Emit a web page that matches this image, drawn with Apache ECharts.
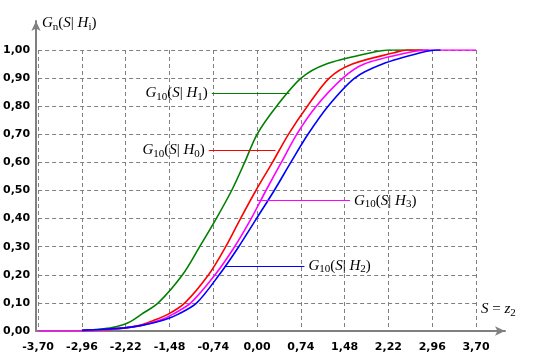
<!DOCTYPE html>
<html>
<head>
<meta charset="utf-8">
<script src="https://cdn.jsdelivr.net/npm/echarts@6/dist/echarts.min.js"></script>
<style>html,body{margin:0;padding:0;background:#fff;}#c{width:540px;height:360px;}</style>
</head>
<body>
<div id="c"></div>
<script>
// x-axis ticks (S = z2) and y-axis ticks
var xTicks = [-3.70, -2.96, -2.22, -1.48, -0.74, 0.00, 0.74, 1.48, 2.22, 2.96, 3.70];
var yTicks = [0, 0.1, 0.2, 0.3, 0.4, 0.5, 0.6, 0.7, 0.8, 0.9, 1.0];

// G10(S|H1) - green
var h1S = [-2.96, -2.73, -2.45, -2.17, -1.95, -1.67, -1.26, -0.97, -0.69, -0.43, -0.21, 0.00, 0.33, 0.745, 1.17, 1.92, 2.22, 2.80];
var h1G = [0.001, 0.005, 0.012, 0.030, 0.060, 0.100, 0.200, 0.300, 0.400, 0.500, 0.600, 0.700, 0.800, 0.900, 0.950, 0.990, 1.000, 1.000];
// G10(S|H0) - red
var h0S = [-2.96, -2.50, -2.20, -1.95, -1.77, -1.50, -1.22, -0.82, -0.53, -0.28, -0.02, 0.26, 0.53, 0.85, 1.22, 1.61, 2.31, 2.54, 2.90];
var h0G = [0.001, 0.005, 0.012, 0.022, 0.036, 0.060, 0.100, 0.200, 0.300, 0.400, 0.500, 0.600, 0.700, 0.800, 0.900, 0.950, 0.990, 1.000, 1.000];
// G10(S|H3) - magenta
var h3S = [-3.70, -2.96, -2.60, -2.20, -1.95, -1.61, -1.42, -1.12, -0.71, -0.38, -0.10, 0.15, 0.41, 0.67, 1.00, 1.45, 1.81, 2.54, 2.88, 3.70];
var h3G = [0.000, 0.001, 0.004, 0.012, 0.020, 0.041, 0.060, 0.100, 0.200, 0.300, 0.400, 0.500, 0.600, 0.700, 0.800, 0.900, 0.950, 0.990, 1.000, 1.000];
// G10(S|H2) - blue
var h2S = [-2.96, -2.60, -2.20, -1.95, -1.55, -1.33, -1.02, -0.64, -0.31, -0.01, 0.29, 0.57, 0.86, 1.20, 1.65, 2.12, 2.76, 3.04, 3.10];
var h2G = [0.003, 0.006, 0.012, 0.020, 0.041, 0.060, 0.100, 0.200, 0.300, 0.400, 0.500, 0.600, 0.700, 0.800, 0.900, 0.950, 0.990, 1.000, 1.000];

// annotation leader lines: [S start, S end, G level]
var h1Lead = [-0.765, 0.547, 0.846];
var h0Lead = [-0.816, 0.31, 0.643];
var h3Lead = [0.0, 1.57, 0.464];
var h2Lead = [-0.547, 0.80, 0.232];

function pairs(xs, ys) { return xs.map(function (x, i) { return [x, ys[i]]; }); }
function fmt(v) { return v.toFixed(2).replace('.', ','); }

var serif = 'Liberation Serif';
var rich = {
  i: { fontFamily: serif, fontStyle: 'italic', fontSize: 15, color: '#000' },
  n: { fontFamily: serif, fontSize: 15, color: '#000' },
  s: { fontFamily: serif, fontSize: 11, color: '#000', padding: [7, 0, 0, 0] }
};
function labelText(h) { return '{i|G}{s|10}{n|(}{i|S}{n|| }{i|H}{s|' + h + '}{n|)}'; }

function series(name, xs, ys, color, lead, h, pos) {
  return {
    name: name, type: 'line', xAxisIndex: 0, yAxisIndex: 0,
    data: pairs(xs, ys), showSymbol: false, smooth: 0.3,
    lineStyle: { color: color, width: 1.6 }, itemStyle: { color: color },
    z: 3,
    markLine: {
      silent: true, symbol: 'none', animation: false,
      lineStyle: { color: color, width: 1.2, type: 'solid' },
      label: { show: true, position: pos, distance: 4, formatter: labelText(h), rich: rich },
      data: [[{ coord: [lead[0], lead[2]] }, { coord: [lead[1], lead[2]] }]]
    }
  };
}

var tickFont = { margin: 0, color: '#000', fontFamily: 'DejaVu Sans', fontWeight: 'bold', fontSize: 11, formatter: fmt };

var chart = echarts.init(document.getElementById('c'), null, { renderer: 'canvas' });
chart.setOption({
  animation: false,
  backgroundColor: '#fff',
  grid: [
    { left: 36, right: 64, top: 50, bottom: 29 },
    { left: 36, right: 35, top: 21, bottom: 29 }
  ],
  xAxis: [
    { type: 'value', gridIndex: 0, min: -3.70, max: 3.70, interval: 0.74,
      axisLine: { show: false }, axisTick: { show: false },
      axisLabel: Object.assign({}, tickFont, { margin: 11 }),
      splitLine: { show: true, lineStyle: { color: '#808080', type: [4, 3], width: 1 } } },
    { type: 'value', gridIndex: 1, min: 0, max: 1,
      axisLine: { show: true, onZero: false, symbol: ['none', 'arrow'], symbolSize: [7, 10], lineStyle: { color: '#808080', width: 2 } },
      axisTick: { show: false }, axisLabel: { show: false }, splitLine: { show: false } }
  ],
  yAxis: [
    { type: 'value', gridIndex: 0, min: 0, max: 1, interval: 0.1,
      axisLine: { show: false }, axisTick: { show: false },
      axisLabel: Object.assign({}, tickFont, { margin: 8 }),
      splitLine: { show: true, lineStyle: { color: '#808080', type: [4, 3], width: 1 } } },
    { type: 'value', gridIndex: 1, min: 0, max: 1,
      axisLine: { show: true, onZero: false, symbol: ['none', 'arrow'], symbolSize: [7, 10], lineStyle: { color: '#808080', width: 2 } },
      axisTick: { show: false }, axisLabel: { show: false }, splitLine: { show: false } }
  ],
  graphic: [
    { type: 'text', left: 42, top: 16, style: { text: '{i|G}{s|n}{n|(}{i|S}{n|| }{i|H}{s|i}{n|)}', rich: rich } },
    { type: 'text', left: 481, top: 302, style: { text: '{i|S}{n| = }{i|z}{s|2}', rich: rich } }
  ],
  series: [
    series('H1', h1S, h1G, '#008000', h1Lead, '1', 'start'),
    series('H0', h0S, h0G, '#ff0000', h0Lead, '0', 'start'),
    series('H3', h3S, h3G, '#ff00ff', h3Lead, '3', 'end'),
    series('H2', h2S, h2G, '#0000ff', h2Lead, '2', 'end')
  ]
});
</script>
</body>
</html>
